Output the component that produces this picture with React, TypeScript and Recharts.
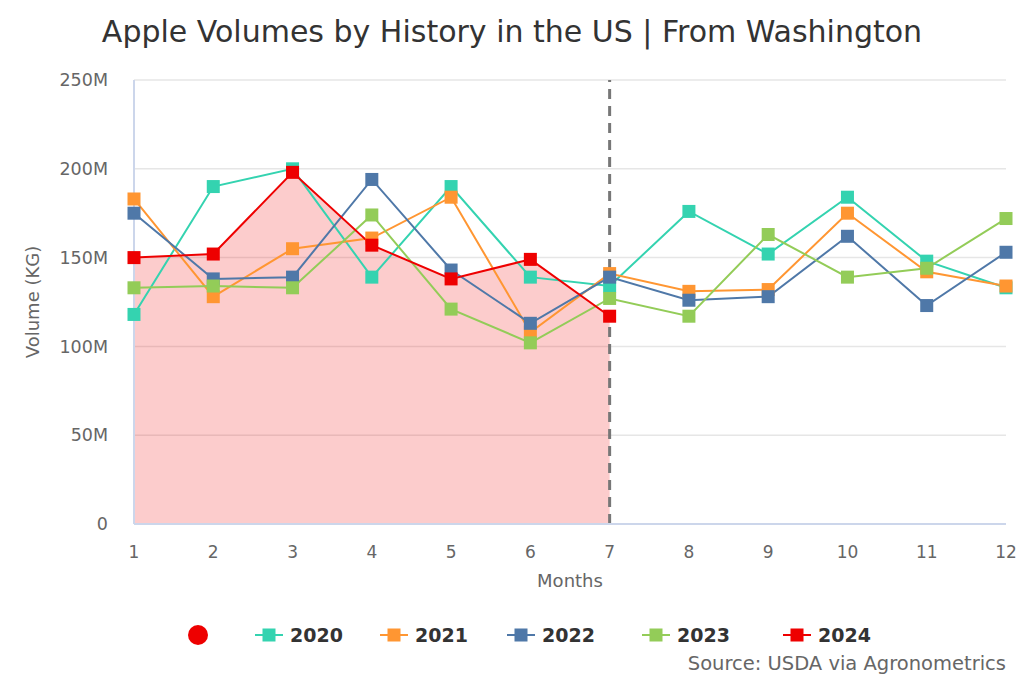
import React from "react";
import {
  ComposedChart,
  Line,
  Area,
  XAxis,
  YAxis,
  CartesianGrid,
  ReferenceLine,
} from "recharts";

const months = [1, 2, 3, 4, 5, 6, 7, 8, 9, 10, 11, 12];
const v2020 = [118, 190, 200, 139, 190, 139, 134, 176, 152, 184, 148, 133];
const v2021 = [183, 128, 155, 161, 184, 108, 141, 131, 132, 175, 142, 134];
const v2022 = [175, 138, 139, 194, 143, 113, 139, 126, 128, 162, 123, 153];
const v2023 = [133, 134, 133, 174, 121, 102, 127, 117, 163, 139, 144, 172];
const v2024 = [150, 152, 198, 157, 138, 149, 117];
const yTicks = [0, 50, 100, 150, 200, 250];
const seriesNames = ["2020", "2021", "2022", "2023", "2024"];
const seriesColors = ["#34d3b0", "#ff9632", "#4f78a8", "#93cc58", "#ee0000"];

const data = months.map((m, i) => ({
  month: m,
  s2020: v2020[i],
  s2021: v2021[i],
  s2022: v2022[i],
  s2023: v2023[i],
  s2024: i < v2024.length ? v2024[i] : null,
}));

const FONT = "'DejaVu Sans', sans-serif";

const squareDot = (color: string) => (props: any) => {
  const { cx, cy, index } = props;
  if (cx == null || cy == null || props.value == null) return <g key={`d-${index}`} />;
  return (
    <rect
      key={`d-${color}-${index}`}
      x={cx - 6.5}
      y={cy - 6.5}
      width={13}
      height={13}
      fill={color}
    />
  );
};

export default function App() {
  return (
    <div
      style={{
        position: "absolute",
        left: 0,
        top: 0,
        width: 1024,
        height: 683,
        background: "#fff",
        fontFamily: FONT,
      }}
    >
      <div
        style={{
          position: "absolute",
          top: 13,
          left: 0,
          width: 1024,
          textAlign: "center",
          fontSize: 30,
          lineHeight: "38px",
          color: "#333",
        }}
      >
        Apple Volumes by History in the US | From Washington
      </div>
      <ComposedChart
        width={1024}
        height={683}
        data={data}
        margin={{ top: 80, right: 18, left: 0, bottom: 129 }}
      >
        <CartesianGrid vertical={false} stroke="#e6e6e6" strokeWidth={1.5} />
        <XAxis
          dataKey="month"
          ticks={months}
          axisLine={{ stroke: "#ccd6eb", strokeWidth: 2 }}
          tickLine={false}
          height={30}
          tick={{ fill: "#666", fontSize: 17, fontFamily: FONT }}
          tickMargin={16}
          label={{
            value: "Months",
            position: "insideBottom",
            offset: -33,
            fill: "#666",
            fontSize: 18,
            fontFamily: FONT,
          }}
        />
        <YAxis
          domain={[0, 250]}
          ticks={yTicks}
          width={134}
          axisLine={{ stroke: "#ccd6eb", strokeWidth: 2 }}
          tickLine={false}
          tickMargin={20}
          tick={{ fill: "#666", fontSize: 17.5, fontFamily: FONT }}
          tickFormatter={(v: number) => (v === 0 ? "0" : `${v}M`)}
          label={{
            value: "Volume (KG)",
            angle: -90,
            position: "insideLeft",
            offset: 33,
            style: { textAnchor: "middle", fill: "#666", fontSize: 18, fontFamily: FONT },
          }}
        />
        <Area
          dataKey="s2024"
          stroke="none"
          fill="#ee0000"
          fillOpacity={0.2}
          isAnimationActive={false}
          dot={false}
          activeDot={false}
          connectNulls={false}
        />
        <ReferenceLine
          x={7}
          stroke="#777"
          strokeWidth={3}
          strokeDasharray="10 7"
        />
        {seriesNames.map((name, i) => (
          <Line
            key={name}
            dataKey={`s${name}`}
            stroke={seriesColors[i]}
            strokeWidth={2}
            isAnimationActive={false}
            dot={squareDot(seriesColors[i])}
            activeDot={false}
          />
        ))}
      </ComposedChart>
      <div
        style={{
          position: "absolute",
          top: 622,
          left: 0,
          width: 1024,
          height: 26,
        }}
      >
        <div
          style={{
            position: "absolute",
            left: 188,
            top: 3,
            width: 20,
            height: 20,
            borderRadius: 10,
            background: "#ee0000",
          }}
        />
        {seriesNames.map((name, i) => {
          const lefts = [255, 380, 507, 642, 783];
          return (
            <div
              key={name}
              style={{ position: "absolute", left: lefts[i], top: 0, height: 26 }}
            >
              <svg width={30} height={26} style={{ position: "absolute", left: 0, top: 0 }}>
                <line x1={0} y1={13} x2={28} y2={13} stroke={seriesColors[i]} strokeWidth={2} />
                <rect x={7.5} y={6.5} width={13} height={13} fill={seriesColors[i]} />
              </svg>
              <span
                style={{
                  position: "absolute",
                  left: 35,
                  top: 0,
                  fontSize: 19,
                  fontWeight: "bold",
                  color: "#333",
                  lineHeight: "26px",
                  whiteSpace: "nowrap",
                }}
              >
                {name}
              </span>
            </div>
          );
        })}
      </div>
      <div
        style={{
          position: "absolute",
          right: 18,
          top: 652,
          fontSize: 19.5,
          color: "#666",
          whiteSpace: "nowrap",
        }}
      >
        Source: USDA via Agronometrics
      </div>
    </div>
  );
}
